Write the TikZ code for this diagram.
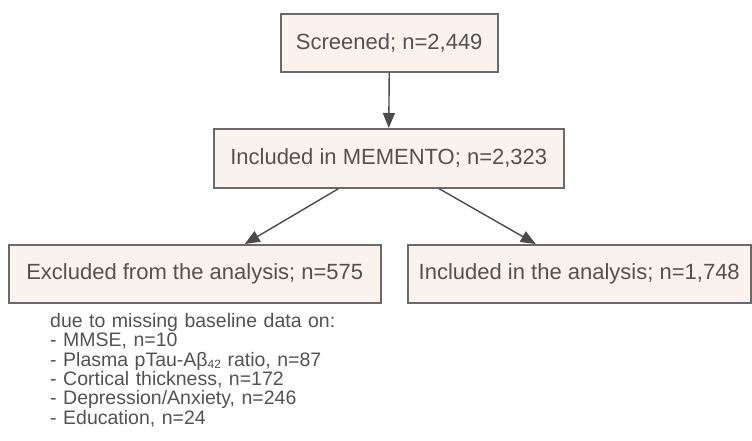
\documentclass[tikz,border=0pt]{standalone}
\usepackage{fontspec}
\setmainfont{Liberation Sans}
\usetikzlibrary{arrows.meta}
\definecolor{boxfill}{HTML}{FAF2EC}
\definecolor{boxline}{HTML}{6A6A6A}
\definecolor{txt}{HTML}{525252}
\definecolor{arr}{HTML}{4A4A4A}
\tikzset{
  flowbox/.style={draw=boxline, line width=1.5pt, fill=boxfill, text=txt,
    font=\fontsize{22}{26}\selectfont, inner sep=0pt, anchor=north west},
  conn/.style={draw=arr, line width=1.4pt, -{Triangle[length=15pt,width=12pt]}},
  notetext/.style={anchor=north west, inner sep=0pt, text width=330pt, align=left, text=txt,
    font=\fontsize{19.5}{19.4}\selectfont},
}
\begin{document}
\begin{tikzpicture}[x=1pt,y=-1pt]
\useasboundingbox (0,0) rectangle (752,440);
\node[flowbox, minimum width=217pt, minimum height=58pt] (scr) at (280,13) {Screened; n=2,449};
\node[flowbox, minimum width=350pt, minimum height=59pt] (inc) at (213,128) {Included in MEMENTO; n=2,323};
\node[flowbox, minimum width=372pt, minimum height=58pt] (exc) at (8,244) {Excluded from the analysis; n=575};
\node[flowbox, minimum width=343pt, minimum height=58pt] (ana) at (407,244) {Included in the analysis; n=1,748};
\node[notetext] (note) at (50,313)
  {\baselineskip=19.4pt due to missing baseline data on:\par
   - MMSE, n=10\par
   - Plasma pTau-Aβ\raisebox{-2pt}{\fontsize{12}{12}\selectfont 42} ratio, n=87\par
   - Cortical thickness, n=172\par
   - Depression/Anxiety, n=246\par
   - Education, n=24\par};
\draw[conn] (scr.south) -- (inc.north);
\draw[conn] ([xshift=-50pt]inc.south) -- ([xshift=50pt]exc.north);
\draw[conn] ([xshift=50pt]inc.south) -- ([xshift=-43.5pt]ana.north);
\end{tikzpicture}
\end{document}
